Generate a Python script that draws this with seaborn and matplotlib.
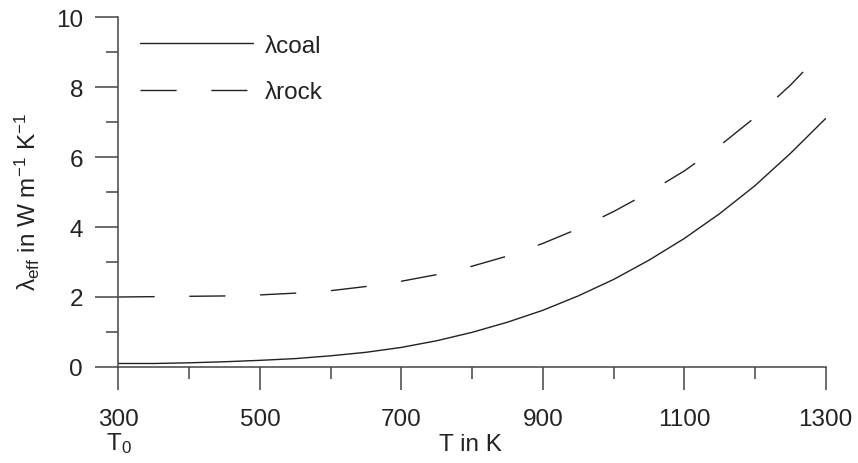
import matplotlib
matplotlib.use("Agg")
import matplotlib.pyplot as plt
from matplotlib.ticker import MultipleLocator
from matplotlib.transforms import blended_transform_factory
import numpy as np
import pandas as pd
import seaborn as sns

# Temperature grid (K) and effective thermal conductivities (W m^-1 K^-1)
temperature = [300, 350, 400, 450, 500, 550, 600, 650, 700, 750, 800,
               850, 900, 950, 1000, 1050, 1100, 1150, 1200, 1250, 1300]
lambda_coal = [0.10, 0.10, 0.12, 0.15, 0.19, 0.24, 0.32, 0.42, 0.56, 0.75, 0.99,
               1.28, 1.62, 2.03, 2.50, 3.05, 3.67, 4.38, 5.18, 6.10, 7.10]
lambda_rock = [2.00, 2.01, 2.02, 2.03, 2.06, 2.11, 2.18, 2.30, 2.45, 2.64, 2.88,
               3.17, 3.53, 3.95, 4.44, 4.99, 5.60, 6.32, 7.13, 8.05, 9.10]
series_labels = ["λcoal", "λrock"]
x_ticks = [300, 500, 700, 900, 1100, 1300]
y_ticks = [0, 2, 4, 6, 8, 10]

df = pd.concat([
    pd.DataFrame({"T": temperature, "lam": lambda_coal, "material": series_labels[0]}),
    pd.DataFrame({"T": temperature, "lam": lambda_rock, "material": series_labels[1]}),
], ignore_index=True)

sns.set_style("ticks")
plt.rcParams["font.family"] = ["Liberation Sans", "DejaVu Sans"]
plt.rcParams["mathtext.fontset"] = "custom"
plt.rcParams["mathtext.rm"] = "Liberation Sans"
plt.rcParams["mathtext.it"] = "Liberation Sans"
plt.rcParams["mathtext.default"] = "regular"

ink = "#222222"
axis_color = "#444444"
fs = 17.5

fig = plt.figure(figsize=(8.58, 4.64), dpi=100)
ax = fig.add_axes([0.1381, 0.2069, 0.8242, 0.7543])

sns.lineplot(data=df, x="T", y="lam", hue="material", style="material",
             palette=[ink, ink], dashes={series_labels[0]: "", series_labels[1]: (26, 25)},
             linewidth=1.0, legend=False, ax=ax)

ax.set_xlim(300, 1300)
ax.set_ylim(0, 10)
ax.set_xticks(x_ticks)
ax.set_yticks(y_ticks)
ax.xaxis.set_minor_locator(MultipleLocator(100))
ax.yaxis.set_minor_locator(MultipleLocator(1))

for side in ("top", "right"):
    ax.spines[side].set_visible(False)
for side in ("left", "bottom"):
    ax.spines[side].set_color(axis_color)
    ax.spines[side].set_linewidth(1.1)

ax.tick_params(which="major", length=16.5, width=1.1, color=axis_color,
               labelsize=fs, labelcolor=ink, direction="out")
ax.tick_params(which="minor", length=8.6, width=1.1, color=axis_color, direction="out")
ax.tick_params(axis="y", which="major", pad=9)
ax.tick_params(axis="x", which="major", pad=13)

ax.set_xlabel("T in K", fontsize=fs, color=ink)
ax.xaxis.set_label_coords(0.497, -0.19)
ax.set_ylabel(r"$\lambda_{eff}$ in W m$^{-1}$ K$^{-1}$", fontsize=fs, color=ink)
ax.yaxis.set_label_coords(-0.108, 0.474)

trans = blended_transform_factory(ax.transData, ax.transAxes)
ax.text(300, -0.217, r"T$_0$", transform=trans, ha="center", va="center",
        fontsize=fs, color=ink)

handles = ax.get_lines()[:2]
leg = ax.legend(handles, series_labels, loc="upper left",
                bbox_to_anchor=(0.0304, 0.95), frameon=False, fontsize=fs,
                handlelength=4.65, handletextpad=0.5, labelspacing=1.02,
                borderpad=0, borderaxespad=0)
for t in leg.get_texts():
    t.set_color(ink)

fig.savefig("out.png", dpi=100)
